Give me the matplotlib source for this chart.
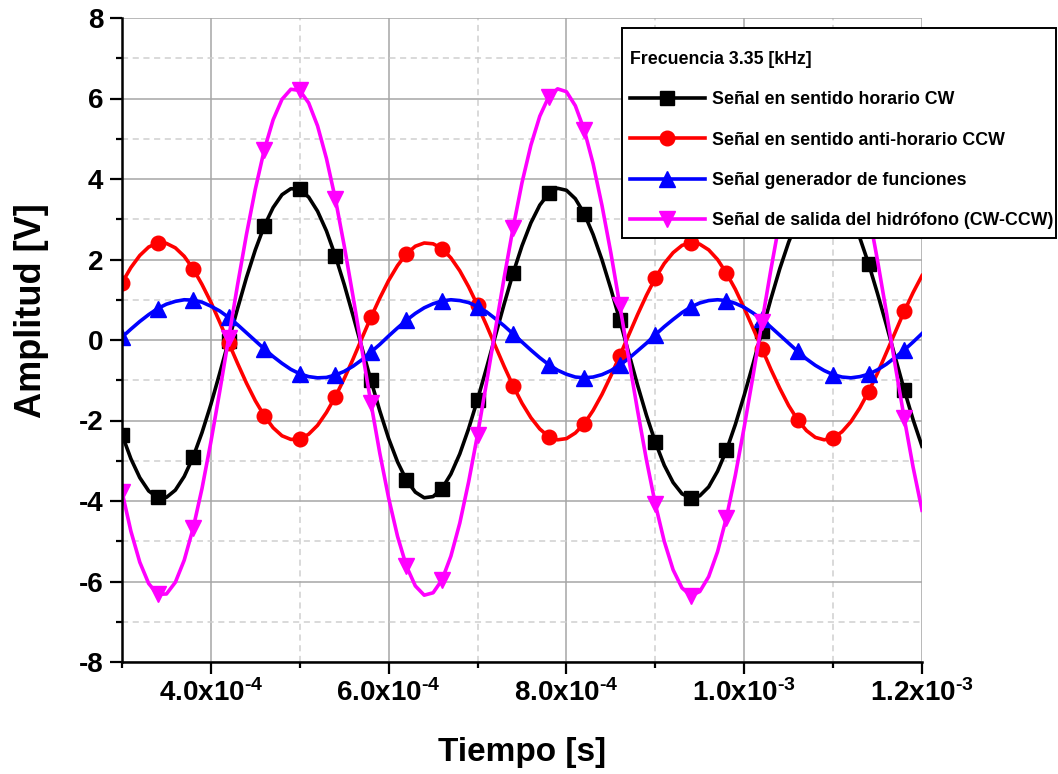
import numpy as np
import matplotlib
matplotlib.use("Agg")
import matplotlib.pyplot as plt
from matplotlib.patches import Rectangle

# ---- data (time sampled every 1e-5 s) ----
tiempo = np.arange(30, 121) * 1e-5

cw = [-2.35, -2.95, -3.42, -3.75, -3.91, -3.91, -3.73, -3.39, -2.91, -2.30,
      -1.60, -0.82, -0.02, 0.78, 1.55, 2.24, 2.83, 3.29, 3.61, 3.76,
      3.74, 3.55, 3.20, 2.71, 2.09, 1.38, 0.60, -0.20, -1.00, -1.76,
      -2.45, -3.03, -3.48, -3.78, -3.92, -3.89, -3.69, -3.33, -2.83, -2.20,
      -1.48, -0.70, 0.10, 0.90, 1.66, 2.34, 2.91, 3.35, 3.64, 3.77,
      3.72, 3.51, 3.14, 2.62, 1.99, 1.27, 0.49, -0.32, -1.12, -1.87,
      -2.54, -3.11, -3.54, -3.82, -3.93, -3.87, -3.65, -3.26, -2.74, -2.10,
      -1.37, -0.59, 0.22, 1.02, 1.77, 2.43, 2.98, 3.40, 3.67, 3.77,
      3.70, 3.46, 3.07, 2.54, 1.89, 1.15, 0.37, -0.44, -1.24, -1.98, -2.64]

ccw = [1.42, 1.80, 2.10, 2.31, 2.41, 2.40, 2.29, 2.08, 1.77, 1.38,
       0.94, 0.44, -0.07, -0.58, -1.07, -1.51, -1.88, -2.18, -2.38, -2.47,
       -2.46, -2.34, -2.12, -1.80, -1.41, -0.96, -0.47, 0.05, 0.56, 1.04,
       1.48, 1.85, 2.14, 2.33, 2.41, 2.39, 2.27, 2.04, 1.72, 1.32,
       0.86, 0.37, -0.15, -0.66, -1.14, -1.57, -1.93, -2.21, -2.40, -2.48,
       -2.45, -2.31, -2.08, -1.75, -1.35, -0.89, -0.39, 0.12, 0.63, 1.11,
       1.54, 1.90, 2.17, 2.35, 2.42, 2.38, 2.24, 2.00, 1.66, 1.26,
       0.79, 0.29, -0.22, -0.73, -1.20, -1.63, -1.98, -2.25, -2.42, -2.48,
       -2.43, -2.28, -2.03, -1.69, -1.28, -0.82, -0.31, 0.20, 0.71, 1.18, 1.60]

generador = [0.07, 0.27, 0.46, 0.63, 0.78, 0.89, 0.96, 1.00, 0.99, 0.94,
             0.84, 0.72, 0.56, 0.38, 0.18, -0.02, -0.22, -0.41, -0.58, -0.73,
             -0.84, -0.91, -0.94, -0.93, -0.87, -0.78, -0.65, -0.49, -0.30, -0.11,
             0.10, 0.30, 0.49, 0.66, 0.80, 0.90, 0.97, 1.00, 0.98, 0.93,
             0.83, 0.70, 0.53, 0.35, 0.15, -0.05, -0.25, -0.44, -0.61, -0.75,
             -0.85, -0.92, -0.94, -0.92, -0.86, -0.76, -0.62, -0.46, -0.27, -0.08,
             0.13, 0.33, 0.51, 0.68, 0.82, 0.92, 0.98, 1.00, 0.98, 0.91,
             0.81, 0.67, 0.51, 0.32, 0.12, -0.08, -0.28, -0.47, -0.63, -0.76,
             -0.86, -0.92, -0.94, -0.91, -0.85, -0.74, -0.60, -0.43, -0.25, -0.05, 0.16]

hidrofono = [-3.77, -4.75, -5.52, -6.05, -6.32, -6.31, -6.02, -5.47, -4.68, -3.69,
             -2.53, -1.27, 0.05, 1.37, 2.62, 3.75, 4.72, 5.47, 5.98, 6.23,
             6.20, 5.89, 5.32, 4.51, 3.51, 2.34, 1.07, -0.25, -1.56, -2.81,
             -3.93, -4.88, -5.62, -6.11, -6.34, -6.28, -5.96, -5.37, -4.55, -3.52,
             -2.35, -1.07, 0.25, 1.56, 2.79, 3.91, 4.84, 5.56, 6.04, 6.24,
             6.17, 5.82, 5.22, 4.38, 3.34, 2.16, 0.87, -0.45, -1.75, -2.98,
             -4.08, -5.00, -5.71, -6.16, -6.35, -6.25, -5.88, -5.26, -4.41, -3.36,
             -2.16, -0.88, 0.45, 1.75, 2.97, 4.06, 4.96, 5.65, 6.09, 6.25,
             6.13, 5.75, 5.10, 4.23, 3.17, 1.97, 0.68, -0.65, -1.94, -3.16, -4.23]

series_labels = ["Señal en sentido horario CW",
                 "Señal en sentido anti-horario CCW",
                 "Señal generador de funciones",
                 "Señal de salida del hidrófono (CW-CCW)"]
legend_title = "Frecuencia 3.35 [kHz]"

x_major = [4.0e-4, 6.0e-4, 8.0e-4, 1.0e-3, 1.2e-3]
x_major_labels = [r"4.0x10$^{\text{-4}}$", r"6.0x10$^{\text{-4}}$",
                  r"8.0x10$^{\text{-4}}$", r"1.0x10$^{\text{-3}}$",
                  r"1.2x10$^{\text{-3}}$"]
x_minor = [3.0e-4, 5.0e-4, 7.0e-4, 9.0e-4, 1.1e-3]
y_major = [-8, -6, -4, -2, 0, 2, 4, 6, 8]
y_minor = [-7, -5, -3, -1, 1, 3, 5, 7]

# ---- style ----
plt.rcParams["font.family"] = ["Liberation Sans", "DejaVu Sans"]
plt.rcParams["font.weight"] = "bold"
plt.rcParams["axes.unicode_minus"] = False
plt.rcParams["mathtext.fontset"] = "custom"
plt.rcParams["mathtext.rm"] = "Liberation Sans:bold"
plt.rcParams["mathtext.it"] = "Liberation Sans:bold"
plt.rcParams["mathtext.bf"] = "Liberation Sans:bold"
plt.rcParams["mathtext.default"] = "rm"

W, H = 1058, 774
fig = plt.figure(figsize=(W / 100, H / 100), dpi=100)
ax = fig.add_axes([122 / W, 1 - 662 / H, 800 / W, 644 / H])

styles = [("#000000", "s", 10), ("#FF0000", "o", 10.5),
          ("#0000FF", "^", 11), ("#FF00FF", "v", 11)]
datasets = [cw, ccw, generador, hidrofono]
handles = []
for data, lab, (col, mk, ms) in zip(datasets, series_labels, styles):
    h, = ax.plot(tiempo, data, color=col, lw=2.6, marker=mk, ms=ms,
                 markevery=4, label=lab, solid_joinstyle="round")
    handles.append(h)

ax.set_xlim(3.0e-4, 1.2e-3)
ax.set_ylim(-8, 8)
ax.set_xticks(x_major)
ax.set_xticklabels(x_major_labels)
ax.set_xticks(x_minor, minor=True)
ax.set_yticks(y_major)
ax.set_yticks(y_minor, minor=True)

ax.set_axisbelow(True)
ax.grid(which="major", color="#a6a6a6", lw=1.1, ls="-")
ax.grid(which="minor", color="#cfcfcf", lw=1.1, ls=(0, (4, 3)))

for s in ["top", "right"]:
    ax.spines[s].set_visible(False)
for s in ["left", "bottom"]:
    ax.spines[s].set_linewidth(1.8)

ax.tick_params(which="major", direction="out", length=8.5, width=1.6,
               labelsize=20)
ax.tick_params(axis="x", which="major", pad=4)
ax.tick_params(axis="y", which="major", pad=5)
ax.tick_params(which="minor", direction="out", length=4.5, width=1.6)
for lbl in ax.get_xticklabels() + ax.get_yticklabels():
    lbl.set_fontweight("bold")

ax.set_xlabel("Tiempo [s]", fontsize=24, fontweight="bold")
ax.xaxis.set_label_coords(0.5, -0.117)
ax.set_ylabel("Amplitud [V]", fontsize=26, fontweight="bold")
ax.yaxis.set_label_coords(-0.091, 0.545)

# legend frame (white box with black edge, drawn above the axes)
frame = Rectangle((622 / W, 1 - 238 / H), 434 / W, 210 / H,
                  transform=fig.transFigure, facecolor="white",
                  edgecolor="black", lw=1.4, zorder=4)
fig.add_artist(frame)

leg = fig.legend(handles=handles, labels=series_labels, loc="upper left",
                 bbox_to_anchor=(630 / W, 1 - 51 / H), title=legend_title,
                 title_fontproperties={"weight": "bold", "size": 12.8},
                 alignment="left", fontsize=12.8, frameon=False,
                 borderpad=0, handlelength=4.2, handletextpad=0.4,
                 labelspacing=1.31, numpoints=1, borderaxespad=0)
leg.set_zorder(5)
for t in leg.get_texts():
    t.set_fontweight("bold")

fig.savefig("out.png", dpi=100)
